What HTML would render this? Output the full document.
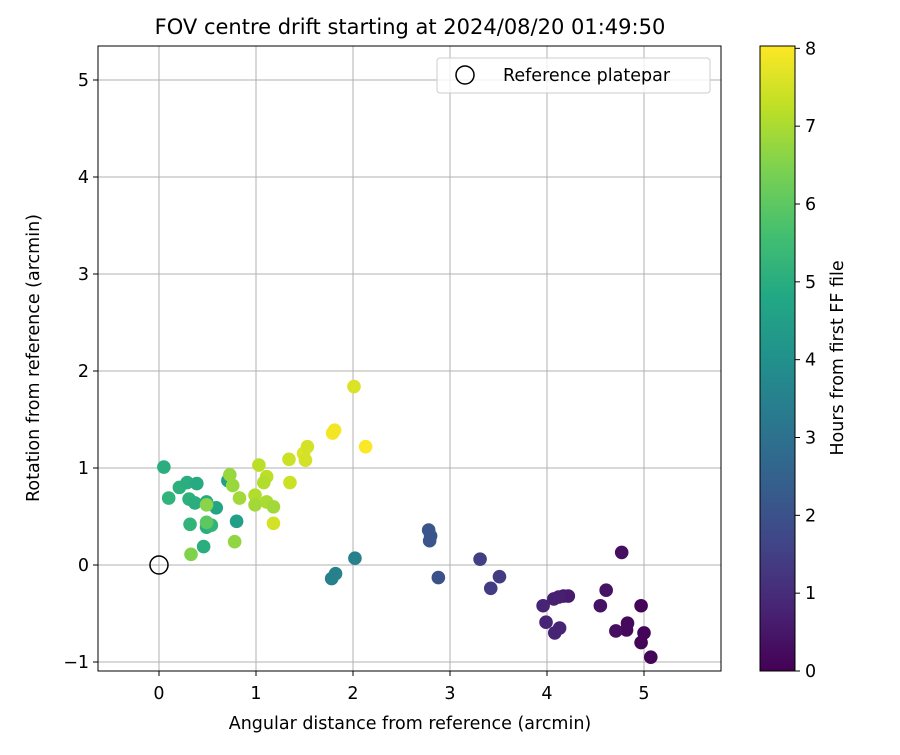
<!DOCTYPE html>
<html><head><meta charset="utf-8"><style>
body{margin:0;background:#fff;}
svg text{font-family:"DejaVu Sans","Liberation Sans",sans-serif;fill:#000;}
</style></head><body>
<svg id="chart" width="900" height="750" xmlns="http://www.w3.org/2000/svg">
<defs><linearGradient id="vir" x1="0" y1="1" x2="0" y2="0"></linearGradient></defs>
<text x="410" y="34" font-size="21" text-anchor="middle">FOV centre drift starting at 2024/08/20 01:49:50</text>
<g id="grid"></g>
<g id="ticks"></g>
<g id="points"></g>
<rect x="98" y="46" width="623" height="625" fill="none" stroke="#000" stroke-width="1"/>
<g>
<rect x="437" y="58" width="273" height="35" rx="3" fill="#fff" fill-opacity="0.8" stroke="#ccc"/>
<circle cx="465" cy="75" r="9" fill="none" stroke="#000" stroke-width="1.5"/>
<text x="503" y="81" font-size="17.5">Reference platepar</text>
</g>
<text x="410" y="729" font-size="17.5" text-anchor="middle">Angular distance from reference (arcmin)</text>
<text transform="translate(39,358) rotate(-90)" font-size="17.5" text-anchor="middle">Rotation from reference (arcmin)</text>
<rect x="760" y="46" width="35" height="625" fill="url(#vir)" stroke="#000"/>
<g id="cbticks"></g>
<text transform="translate(843,358) rotate(-90)" font-size="17.5" text-anchor="middle">Hours from first FF file</text>
</svg>
<script>
const xs=[5.07,4.97,5.0,4.97,4.77,4.83,4.82,4.71,4.61,4.55,4.22,4.17,4.12,4.07,3.96,3.99,4.13,4.08,3.51,3.42,3.31,2.88,2.78,2.80,2.79,2.02,1.82,1.78,
0.05,0.10,0.21,0.29,0.39,0.31,0.37,0.49,0.59,0.32,0.49,0.54,0.46,0.71,0.80,0.33,0.49,0.49,0.78,0.73,0.76,0.83,1.03,1.11,1.08,0.99,0.99,1.11,1.18,1.18,1.34,1.35,1.49,1.53,1.51,1.79,1.81,2.01,2.13];
const ys=[-0.95,-0.8,-0.7,-0.42,0.13,-0.6,-0.67,-0.68,-0.26,-0.42,-0.32,-0.32,-0.33,-0.35,-0.42,-0.59,-0.65,-0.7,-0.12,-0.24,0.06,-0.13,0.36,0.30,0.25,0.07,-0.09,-0.14,
1.01,0.69,0.80,0.85,0.84,0.68,0.64,0.65,0.59,0.42,0.39,0.41,0.19,0.87,0.45,0.11,0.62,0.44,0.24,0.93,0.82,0.69,1.03,0.91,0.85,0.72,0.62,0.65,0.60,0.43,1.09,0.85,1.15,1.22,1.08,1.36,1.39,1.84,1.22];
const hours=[0.1,0.1,0.1,0.1,0.3,0.2,0.2,0.3,0.4,0.4,0.6,0.6,0.7,0.7,0.8,0.8,0.8,0.8,1.4,1.4,1.5,2.0,2.1,2.1,2.1,3.5,3.5,3.5,
5.0,5.2,5.1,5.0,4.9,5.1,5.0,4.9,4.7,5.2,5.0,5.2,5.0,4.5,4.5,6.5,6.6,6.0,6.7,6.8,6.8,6.9,7.2,7.2,7.1,7.1,6.9,7.0,6.9,7.5,7.4,7.4,7.6,7.5,7.5,7.9,7.9,7.6,8.0];
const xTicks=[0,1,2,3,4,5];
const yTicks=[-1,0,1,2,3,4,5];
const cTicks=[0,1,2,3,4,5,6,7,8];
const X=v=>159+v*97, Y=v=>565-v*97;
const CMAX=8.03, C=v=>671-v/CMAX*625;
const stops=["#440154","#482475","#414487","#355f8d","#2a788e","#21918c","#22a884","#44bf70","#7ad151","#bddf26","#fde725"];
function hx(h){return [1,3,5].map(i=>parseInt(h.substr(i,2),16));}
function vir(t){t=Math.max(0,Math.min(1,t));const f=t*10,i=Math.min(9,Math.floor(f)),r=f-i;const a=hx(stops[i]),b=hx(stops[i+1]);return "rgb("+a.map((v,k)=>Math.round(v+(b[k]-v)*r)).join(",")+")";}
const NS="http://www.w3.org/2000/svg";
function mk(tag,attrs,parent,txt){const e=document.createElementNS(NS,tag);for(const k in attrs)e.setAttribute(k,attrs[k]);if(txt!==undefined)e.textContent=txt;parent.appendChild(e);return e;}
const grad=document.getElementById('vir');
stops.forEach((s,i)=>mk('stop',{offset:i/10,'stop-color':s},grad));
const grid=document.getElementById('grid'),ticks=document.getElementById('ticks');
xTicks.forEach(v=>{
 const l=mk('line',{x1:X(v),x2:X(v),y1:46,y2:671,stroke:'#b0b0b0','stroke-width':1},grid);
 
 
 const t=mk('line',{x1:X(v),x2:X(v),y1:671,y2:676,stroke:'#000'},ticks);
 
 
 const tx=mk('text',{x:X(v),y:699,'font-size':17.5,'text-anchor':'middle'},ticks,String(v));
 
 
});
yTicks.forEach(v=>{
 const l=mk('line',{x1:98,x2:721,y1:Y(v),y2:Y(v),stroke:'#b0b0b0','stroke-width':1},grid);
 
 
 const t=mk('line',{x1:93,x2:98,y1:Y(v),y2:Y(v),stroke:'#000'},ticks);
 
 
 const tx=mk('text',{x:89,y:Y(v)+6,'font-size':17.5,'text-anchor':'end'},ticks,v<0?'\u2212'+(-v):String(v));
 
 
});
const pts=document.getElementById('points');
xs.forEach((x,i)=>{
 const c=mk('circle',{cx:X(x),cy:Y(ys[i]),r:6.8,fill:vir(hours[i]/CMAX)},pts);
 
 
});
const ref=mk('circle',{cx:X(0),cy:Y(0),r:9,fill:'none',stroke:'#000','stroke-width':1.5},pts);


const cb=document.getElementById('cbticks');
cTicks.forEach(v=>{
 const t=mk('line',{x1:795,x2:800,y1:C(v),y2:C(v),stroke:'#000'},cb);
 
 
 const tx=mk('text',{x:805,y:C(v)+6,'font-size':17.5},cb,String(v));
 
 
});
</script>
</body></html>
